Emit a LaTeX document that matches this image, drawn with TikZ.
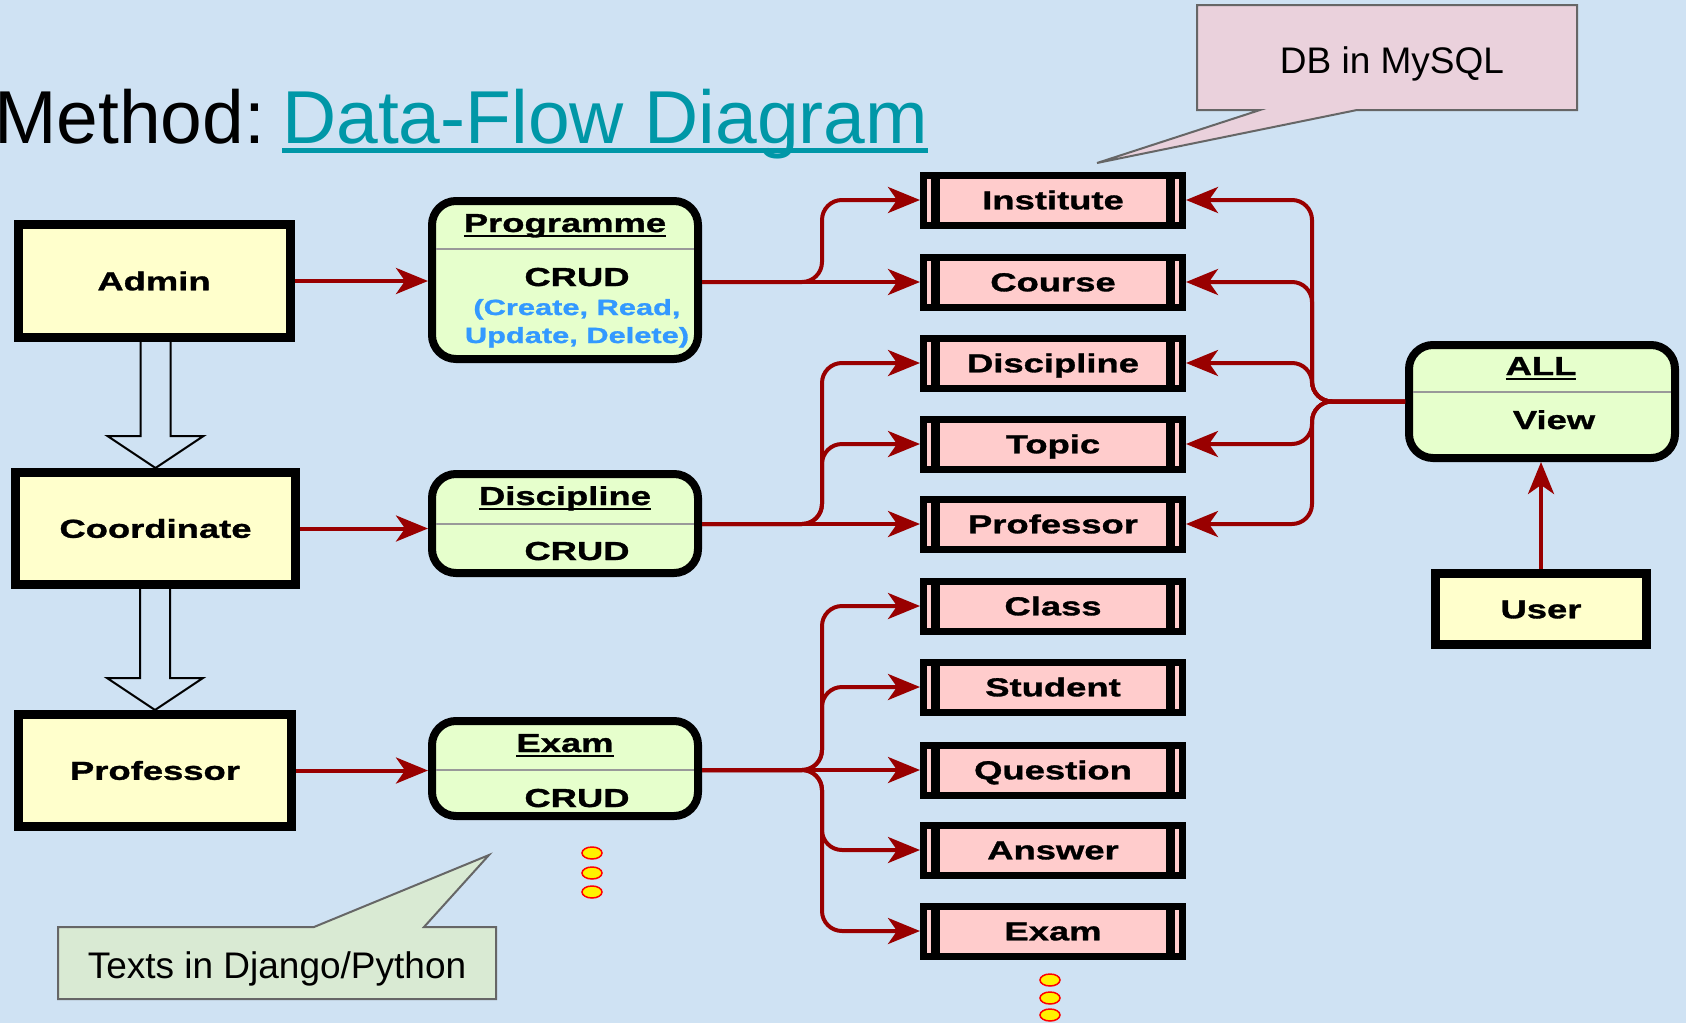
\documentclass[tikz,border=0pt]{standalone}
\usepackage{fontspec}
\setmainfont{Liberation Sans}
\newfontfamily\wide[FakeStretch=1.4,FakeBold=1.2]{Liberation Sans}
\usetikzlibrary{arrows.meta,calc}
\definecolor{bg}{RGB}{207,226,243}
\definecolor{actoryellow}{RGB}{255,255,204}
\definecolor{procgreen}{RGB}{230,255,204}
\definecolor{storepink}{RGB}{255,204,204}
\definecolor{arrowred}{RGB}{153,0,0}
\definecolor{calloutpink}{RGB}{234,209,220}
\definecolor{calloutgreen}{RGB}{217,234,211}
\definecolor{calloutborder}{RGB}{102,102,102}
\definecolor{crudblue}{RGB}{51,153,255}
\definecolor{titleteal}{RGB}{0,151,167}
\definecolor{divgray}{RGB}{153,153,153}
\newcommand\lbl{\wide\bfseries\fontsize{26}{30}\selectfont}
\newcommand\ulbox[3]{\setbox0\hbox{#3}\rlap{\rule[-#1]{\wd0}{#2}}\box0}
\begin{document}
\begin{tikzpicture}[x=1pt,y=-1pt,
  actor/.style={draw=black, line width=9pt, fill=actoryellow, inner sep=0pt,
    text height=18.6pt, text depth=0pt, font=\lbl},
  proc/.style={draw=black, line width=8pt, fill=procgreen, rounded corners=24pt, inner sep=0pt},
  store/.style={draw=black, line width=7pt, fill=storepink, minimum width=259pt,
    minimum height=50pt, inner sep=0pt, text height=18.6pt, text depth=0pt, font=\lbl,
    path picture={
      \fill[black] ([xshift=7.5pt]path picture bounding box.south west) rectangle ([xshift=16.5pt]path picture bounding box.north west);
      \fill[black] ([xshift=-7.5pt]path picture bounding box.south east) rectangle ([xshift=-16.5pt]path picture bounding box.north east);}},
  lbltext/.style={inner sep=0pt, font=\lbl, anchor=base},
  bluetext/.style={inner sep=0pt, anchor=base, text=crudblue, font=\wide\bfseries\fontsize{22}{26}\selectfont},
  divider/.style={draw=divgray, line width=2pt, shorten <=8pt, shorten >=8pt},
  flow/.style={draw=arrowred, line width=4pt, rounded corners=20pt,
    -{Stealth[length=32pt,width=26pt,inset=9pt]}},
  hollow/.style={draw=black, line width=2pt, line join=miter},
  callout/.style={draw=calloutborder, line width=2pt, line join=miter},
  dots/.style={fill=yellow, draw=red, line width=1.5pt}
]
\useasboundingbox (0,0) rectangle (1686,1023);
\fill[bg] (0,0) rectangle (1686,1023);

% title
\node[anchor=base west, inner sep=0pt, font=\fontsize{75}{80}\selectfont] (title) at (-6,143)
  {Method:\hspace{17pt}\textcolor{titleteal}{\ulbox{10pt}{5pt}{Data-Flow Diagram}}};

% callouts
\draw[callout, fill=calloutpink] (1197,5) -- (1577,5) -- (1577,110) -- (1357,110) -- (1097,163) -- (1260,110) -- (1197,110) -- cycle;
\node[inner sep=0pt, anchor=base, font=\fontsize{37}{42}\selectfont] (dbnote) at (1392,73) {DB in MySQL};
\draw[callout, fill=calloutgreen] (58,927) -- (314,927) -- (489,855) -- (424,927) -- (496,927) -- (496,999) -- (58,999) -- cycle;
\node[inner sep=0pt, anchor=base, font=\fontsize{37}{42}\selectfont] (djnote) at (277,978) {Texts in Django/Python};

% actors
\node[actor, minimum width=272pt, minimum height=113pt] (admin) at (154,281) {Admin};
\node[actor, minimum width=280pt, minimum height=112pt] (coord) at (155.5,528.5) {Coordinate};
\node[actor, minimum width=273pt, minimum height=112pt] (profl) at (155,770.5) {Professor};
\node[actor, minimum width=211pt, minimum height=71pt] (user) at (1541,609) {User};

% processes
\node[proc, minimum width=266pt, minimum height=158pt] (prog) at (565,280) {};
\node[proc, minimum width=266pt, minimum height=99pt] (discp) at (565,523.5) {};
\node[proc, minimum width=266pt, minimum height=95pt] (examp) at (565,768.5) {};
\node[proc, minimum width=266pt, minimum height=113pt] (all) at (1542,401.5) {};

\coordinate (d1) at (0,249);
\coordinate (d2) at (0,524);
\coordinate (d3) at (0,770);
\coordinate (d4) at (0,392);
\draw[divider] (prog.west |- d1) -- (prog.east |- d1);
\draw[divider] (discp.west |- d2) -- (discp.east |- d2);
\draw[divider] (examp.west |- d3) -- (examp.east |- d3);
\draw[divider] (all.west |- d4) -- (all.east |- d4);

\node[lbltext] (progT) at (565,232) {\ulbox{5pt}{2pt}{Programme}};
\node[lbltext] (progC) at (577,286) {CRUD};
\node[bluetext] (progB1) at (577,315) {(Create, Read,};
\node[bluetext] (progB2) at (577,343) {Update, Delete)};
\node[lbltext] (discT) at (565,505) {\ulbox{5pt}{2pt}{Discipline}};
\node[lbltext] (discC) at (577,560) {CRUD};
\node[lbltext] (examT) at (565,752) {\ulbox{5pt}{2pt}{Exam}};
\node[lbltext] (examC) at (577,807) {CRUD};
\node[lbltext] (allT) at (1541,375) {\ulbox{5pt}{2pt}{ALL}};
\node[lbltext] (allV) at (1554,429) {View};

% stores
\node[store] (s1) at (1053,200) {Institute};
\node[store] (s2) at (1053,282) {Course};
\node[store] (s3) at (1053,363) {Discipline};
\node[store] (s4) at (1053,444) {Topic};
\node[store] (s5) at (1053,524) {Professor};
\node[store] (s6) at (1053,606) {Class};
\node[store] (s7) at (1053,687) {Student};
\node[store] (s8) at (1053,770) {Question};
\node[store] (s9) at (1053,850) {Answer};
\node[store] (s10) at (1053,931) {Exam};

% hollow arrows
\draw[hollow] ($(coord.north |- admin.south)+(-15,0)$) -- ($(coord.north)+(-15,-32)$) -- ($(coord.north)+(-48,-32)$) -- (coord.north) -- ($(coord.north)+(48,-32)$) -- ($(coord.north)+(15,-32)$) -- ($(coord.north |- admin.south)+(15,0)$);
\draw[hollow] ($(profl.north |- coord.south)+(-15,0)$) -- ($(profl.north)+(-15,-32)$) -- ($(profl.north)+(-48,-32)$) -- (profl.north) -- ($(profl.north)+(48,-32)$) -- ($(profl.north)+(15,-32)$) -- ($(profl.north |- coord.south)+(15,0)$);

% actor -> process
\draw[flow] (admin.east) -- (prog.west |- admin.east);
\draw[flow] (coord.east) -- (discp.west |- coord.east);
\draw[flow] (profl.east) -- (examp.west |- profl.east);
\draw[flow] (user.north) -- (user.north |- all.south);

% process -> stores
\coordinate (lx) at (822,0);
\coordinate (rx) at (1312,0);
\draw[flow] (prog.east |- s2.west) -- (s2.west);
\draw[flow] (prog.east |- s2.west) -- (lx |- s2.west) -- (lx |- s1.west) -- (s1.west);
\draw[flow] (discp.east |- s5.west) -- (s5.west);
\draw[flow] (discp.east |- s5.west) -- (lx |- s5.west) -- (lx |- s4.west) -- (s4.west);
\draw[flow] (discp.east |- s5.west) -- (lx |- s5.west) -- (lx |- s3.west) -- (s3.west);
\draw[flow] (examp.east |- s8.west) -- (s8.west);
\draw[flow] (examp.east |- s8.west) -- (lx |- s8.west) -- (lx |- s7.west) -- (s7.west);
\draw[flow] (examp.east |- s8.west) -- (lx |- s8.west) -- (lx |- s6.west) -- (s6.west);
\draw[flow] (examp.east |- s8.west) -- (lx |- s8.west) -- (lx |- s9.west) -- (s9.west);
\draw[flow] (examp.east |- s8.west) -- (lx |- s8.west) -- (lx |- s10.west) -- (s10.west);

% view -> stores
\foreach \t in {s1,s2,s3,s4,s5}{
  \draw[flow] (all.west) -- (rx |- all.west) -- (rx |- \t.east) -- (\t.east);
}

% dots
\filldraw[dots] (592,853) ellipse [x radius=10, y radius=6];
\filldraw[dots] (592,873) ellipse [x radius=10, y radius=6];
\filldraw[dots] (592,892) ellipse [x radius=10, y radius=6];
\filldraw[dots] (1050,980) ellipse [x radius=10, y radius=6];
\filldraw[dots] (1050,998) ellipse [x radius=10, y radius=6];
\filldraw[dots] (1050,1015) ellipse [x radius=10, y radius=6];
\end{tikzpicture}
\end{document}
